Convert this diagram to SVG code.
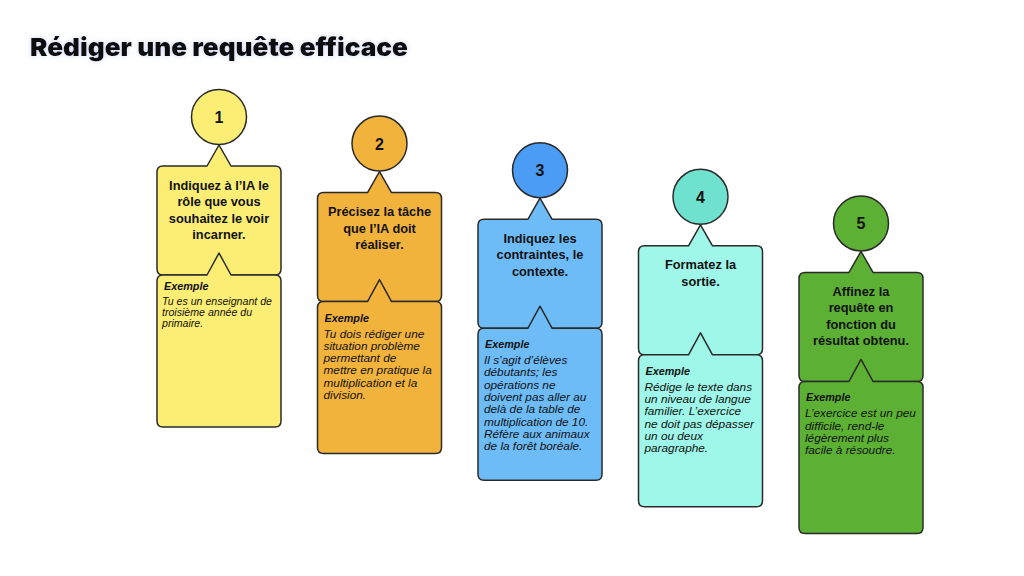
<svg xmlns="http://www.w3.org/2000/svg" width="1024" height="576" viewBox="0 0 1024 576">
  <defs>
    <filter id="glow" x="-10%" y="-50%" width="120%" height="200%">
      <feGaussianBlur in="SourceAlpha" stdDeviation="2.5" result="b"/>
      <feFlood flood-color="#9fb0e0" flood-opacity="0.5"/>
      <feComposite in2="b" operator="in" result="s"/>
      <feMerge><feMergeNode in="s"/><feMergeNode in="SourceGraphic"/></feMerge>
    </filter>
    <path id="topbox" d="M163,166 H207 L219,145 L231,166 H275 Q281,166 281,172 V269 Q281,275 275,275 H163 Q157,275 157,269 V172 Q157,166 163,166 Z"/>
    <path id="botbox" d="M163,275 H207 L219,253 L231,275 H275 Q281,275 281,281 V421 Q281,427 275,427 H163 Q157,427 157,421 V281 Q157,275 163,275 Z"/>
  </defs>
  <style>
    .shape { stroke: #2a2a2a; stroke-width: 1.5; stroke-linejoin: round; }
    .num { font-family: "Liberation Sans", Arial, sans-serif; font-weight: bold; font-size: 16px; fill: #111; text-anchor: middle; }
    .head { font-family: "Liberation Sans", Arial, sans-serif; font-weight: bold; font-size: 12.8px; fill: #111; text-anchor: middle; }
    .ex { font-family: "Liberation Sans", Arial, sans-serif; font-weight: bold; font-style: italic; font-size: 10.8px; fill: #111; }
    .body { font-family: "Liberation Sans", Arial, sans-serif; font-style: italic; font-size: 11.8px; fill: #111; }
    .body1 { font-size: 10.6px; }
    .title { font-family: Inter, Lato, "Liberation Sans", sans-serif; font-weight: 900; font-size: 25px; fill: #0b0b0b; }
  </style>
  <rect width="1024" height="576" fill="#ffffff"/>

  <g id="title">
    <text class="title" x="30" y="56" textLength="378" lengthAdjust="spacingAndGlyphs" filter="url(#glow)">Rédiger une requête efficace</text>
  </g>

  <g id="connectors"></g>

  <g id="step1">
    <use href="#topbox" class="shape" fill="#FCEE74"/>
    <use href="#botbox" class="shape" fill="#FCEE74"/>
    <circle class="shape" cx="219" cy="117" r="27.5" fill="#FCEE74"/>
    <text class="num" x="219" y="123">1</text>
    <text class="head" x="219" y="189.5">Indiquez à l’IA le</text>
    <text class="head" x="219" y="206">rôle que vous</text>
    <text class="head" x="219" y="222.5">souhaitez le voir</text>
    <text class="head" x="219" y="239">incarner.</text>
    <text class="ex" x="164" y="290">Exemple</text>
    <text class="body body1" x="162" y="304.5">Tu es un enseignant de</text>
    <text class="body body1" x="162" y="315.7">troisième année du</text>
    <text class="body body1" x="162" y="326.9">primaire.</text>
  </g>

  <g id="step2" transform="translate(160.5,26.6)">
    <use href="#topbox" class="shape" fill="#F2B33D"/>
    <use href="#botbox" class="shape" fill="#F2B33D"/>
    <circle class="shape" cx="219" cy="117" r="27.5" fill="#F2B33D"/>
    <text class="num" x="219" y="123">2</text>
    <text class="head" x="219" y="189.5">Précisez la tâche</text>
    <text class="head" x="219" y="206">que l’IA doit</text>
    <text class="head" x="219" y="222.5">réaliser.</text>
    <text class="ex" x="164" y="295">Exemple</text>
    <text class="body" x="163" y="311">Tu dois rédiger une</text>
    <text class="body" x="163" y="323.3">situation problème</text>
    <text class="body" x="163" y="335.6">permettant de</text>
    <text class="body" x="163" y="347.9">mettre en pratique la</text>
    <text class="body" x="163" y="360.2">multiplication et la</text>
    <text class="body" x="163" y="372.5">division.</text>
  </g>

  <g id="step3" transform="translate(321,53.2)">
    <use href="#topbox" class="shape" fill="#6DBCF8"/>
    <use href="#botbox" class="shape" fill="#6DBCF8"/>
    <circle class="shape" cx="219" cy="117" r="27.5" fill="#4A9CF5"/>
    <text class="num" x="219" y="123">3</text>
    <text class="head" x="219" y="189.5">Indiquez les</text>
    <text class="head" x="219" y="206">contraintes, le</text>
    <text class="head" x="219" y="222.5">contexte.</text>
    <text class="ex" x="164" y="295">Exemple</text>
    <text class="body" x="163" y="311">Il s’agit d’élèves</text>
    <text class="body" x="163" y="323.3">débutants; les</text>
    <text class="body" x="163" y="335.6">opérations ne</text>
    <text class="body" x="163" y="347.9">doivent pas aller au</text>
    <text class="body" x="163" y="360.2">delà de la table de</text>
    <text class="body" x="163" y="372.5">multiplication de 10.</text>
    <text class="body" x="163" y="384.8">Réfère aux animaux</text>
    <text class="body" x="163" y="397.1">de la forêt boréale.</text>
  </g>

  <g id="step4" transform="translate(481.5,79.8)">
    <use href="#topbox" class="shape" fill="#9EF7E8"/>
    <use href="#botbox" class="shape" fill="#9EF7E8"/>
    <circle class="shape" cx="219" cy="117" r="27.5" fill="#6FE2CF"/>
    <text class="num" x="219" y="123">4</text>
    <text class="head" x="219" y="189.5">Formatez la</text>
    <text class="head" x="219" y="206">sortie.</text>
    <text class="ex" x="164" y="295">Exemple</text>
    <text class="body" x="163" y="311">Rédige le texte dans</text>
    <text class="body" x="163" y="323.3">un niveau de langue</text>
    <text class="body" x="163" y="335.6">familier. L’exercice</text>
    <text class="body" x="163" y="347.9">ne doit pas dépasser</text>
    <text class="body" x="163" y="360.2">un ou deux</text>
    <text class="body" x="163" y="372.5">paragraphe.</text>
  </g>

  <g id="step5" transform="translate(642,106.4)">
    <use href="#topbox" class="shape" fill="#5CB033"/>
    <use href="#botbox" class="shape" fill="#5CB033"/>
    <circle class="shape" cx="219" cy="117" r="27.5" fill="#5CB033"/>
    <text class="num" x="219" y="123">5</text>
    <text class="head" x="219" y="189.5">Affinez la</text>
    <text class="head" x="219" y="206">requête en</text>
    <text class="head" x="219" y="222.5">fonction du</text>
    <text class="head" x="219" y="239">résultat obtenu.</text>
    <text class="ex" x="164" y="295">Exemple</text>
    <text class="body" x="163" y="311">L’exercice est un peu</text>
    <text class="body" x="163" y="323.3">difficile, rend-le</text>
    <text class="body" x="163" y="335.6">légèrement plus</text>
    <text class="body" x="163" y="347.9">facile à résoudre.</text>
  </g>
</svg>
